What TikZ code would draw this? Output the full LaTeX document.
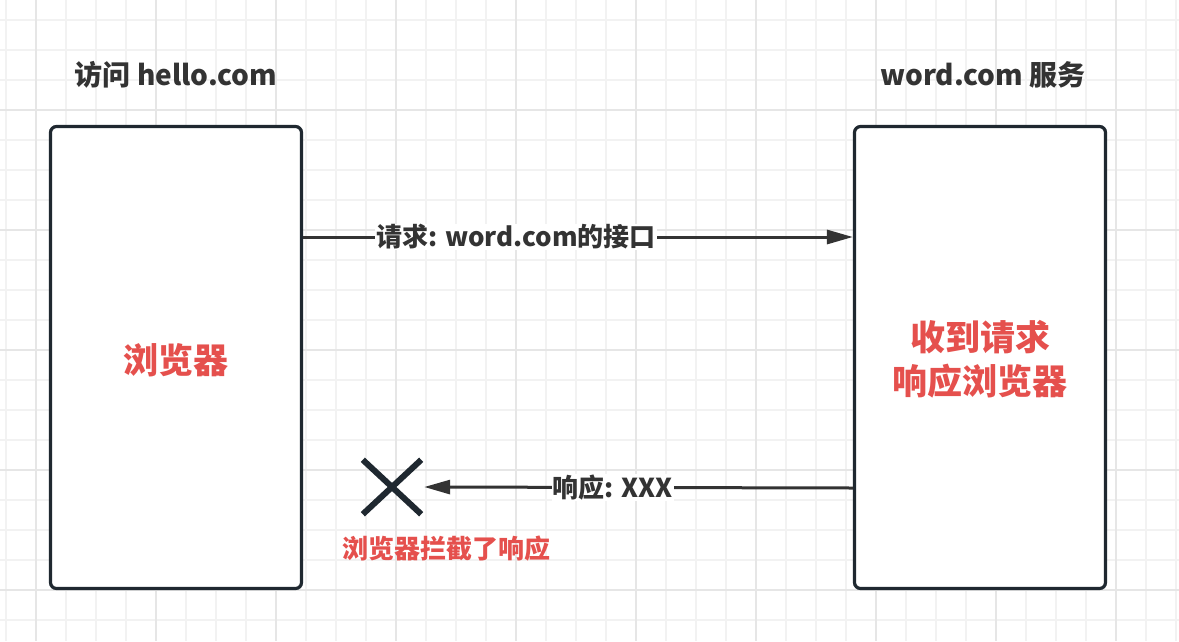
\documentclass[tikz,border=0pt]{standalone}
\usepackage{fontspec}
\setmainfont{Noto Sans CJK SC}
\usetikzlibrary{arrows.meta}
\definecolor{gridminor}{HTML}{F2F2F2}
\definecolor{gridmajor}{HTML}{E6E6E6}
\definecolor{boxline}{HTML}{1F2830}
\definecolor{txt}{HTML}{333333}
\definecolor{redt}{HTML}{E5504D}
\tikzset{
  box/.style={draw=boxline, line width=3.2pt, rounded corners=6pt, fill=white, minimum width=251pt, minimum height=462pt, inner sep=0pt},
  title/.style={text=txt, font=\fontsize{28}{32}\selectfont\bfseries, inner sep=0pt},
  bigred/.style={text=redt, font=\fontsize{35}{44}\selectfont\bfseries, align=center, inner sep=0pt},
  smallred/.style={text=redt, font=\fontsize{26}{30}\selectfont\bfseries, inner sep=0pt},
  conn/.style={draw=txt, line width=3pt, -{Triangle[length=26pt,width=14pt]}},
  lab/.style={fill=white, text=txt, font=\fontsize{26}{30}\selectfont\bfseries, inner sep=1pt},
  xbox/.style={minimum width=58pt, minimum height=54pt, inner sep=0pt},
  xline/.style={draw=boxline, line width=6pt}
}
\begin{document}
\begin{tikzpicture}[x=1pt,y=-1pt]
\useasboundingbox (0,0) rectangle (1179,641);
\fill[white] (0,0) rectangle (1179,641);
% grid
\foreach \x in {6,36,...,1176} \draw[gridminor, line width=1.2pt] (\x,0) -- (\x,641);
\foreach \y in {20,50,...,640} \draw[gridminor, line width=1.2pt] (0,\y) -- (1179,\y);
\foreach \x in {36,156,...,1176} \draw[gridmajor, line width=1.5pt] (\x,0) -- (\x,641);
\foreach \y in {110,230,...,640} \draw[gridmajor, line width=1.5pt] (0,\y) -- (1179,\y);
% titles
\node[title] (t1) at (176,75) {访问 hello.com};
\node[title] (t2) at (983,75) {word.com 服务};
% boxes
\node[box] (lb) at (176,357.5) {};
\node[box] (rb) at (980,357.5) {};
\node[bigred] (lt) at (176,360) {浏览器};
\node[bigred] (rt) at (980,359) {收到请求\\响应浏览器};
% cross
\node[xbox] (xm) at (392,487) {};
\draw[xline] (xm.north west) -- (xm.south east);
\draw[xline] (xm.south west) -- (xm.north east);
\node[smallred] (xl) at (446,549) {浏览器拦截了响应};
% connectors
\draw[conn] ([yshift=120.5pt]lb.east) -- ([yshift=120.5pt]rb.west)
  node[lab, pos=0.387] (l1) {请求: word.com的接口};
\draw[conn] ([yshift=-130.5pt]rb.west) -- ([xshift=3pt]xm.east)
  node[lab, pos=0.56] (l2) {响应: XXX};
\end{tikzpicture}
\end{document}
